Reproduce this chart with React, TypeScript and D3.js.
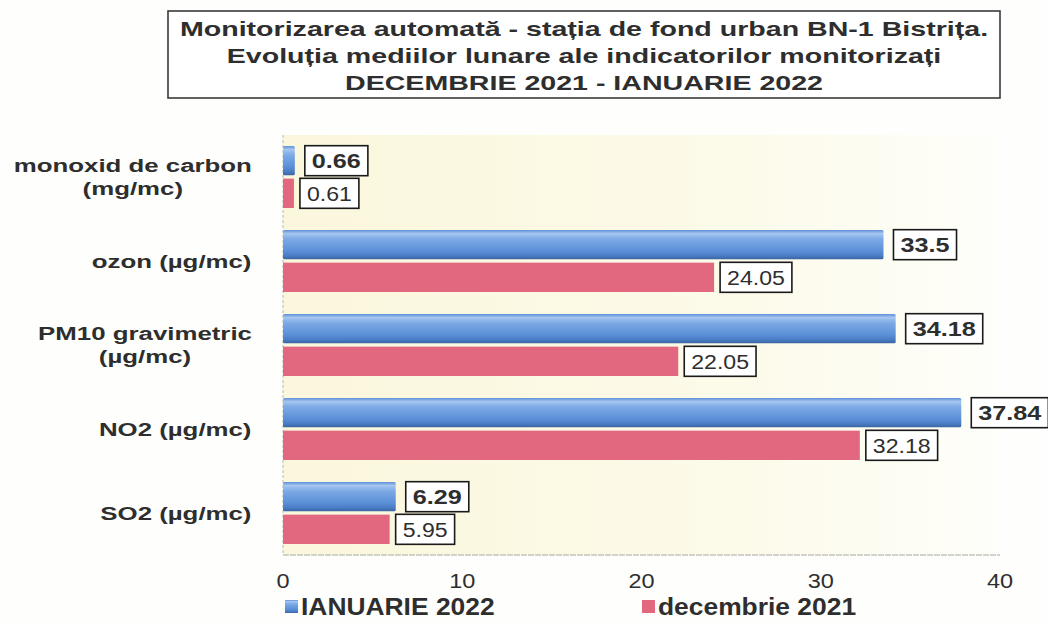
import React from 'react';
import * as d3 from 'd3';

// indicator labels (top to bottom) and monthly averages
const categories = [
  ['monoxid de carbon', '(mg/mc)'],
  ['ozon (µg/mc)'],
  ['PM10 gravimetric', '(µg/mc)'],
  ['NO2 (µg/mc)'],
  ['SO2 (µg/mc)'],
];
const ianuarie2022 = [0.66, 33.5, 34.18, 37.84, 6.29];
const decembrie2021 = [0.61, 24.05, 22.05, 32.18, 5.95];
const seriesNames = ['IANUARIE 2022', 'decembrie 2021'];
const xTicks = [0, 10, 20, 30, 40];
const titleLines = [
  'Monitorizarea automată  - stația de fond urban BN-1 Bistrița.',
  'Evoluția mediilor lunare ale indicatorilor monitorizați',
  'DECEMBRIE 2021 - IANUARIE 2022',
];

// rough Arial bold advance widths (em/1000), enough to size boxes
const W: Record<string, number> = {
  ' ': 278, '(': 333, ')': 333, '/': 278, '.': 278, '-': 333, ',': 278,
  a: 556, b: 611, c: 556, d: 611, e: 556, f: 333, g: 611, h: 611, i: 278, j: 278,
  k: 556, l: 278, m: 889, n: 611, o: 611, p: 611, q: 611, r: 389, s: 556, t: 333,
  u: 611, v: 556, w: 778, x: 556, y: 556, z: 500, 'µ': 611, 'ă': 556, 'ț': 333,
  A: 722, B: 722, C: 722, D: 722, E: 667, I: 278, M: 833, N: 722, O: 778, P: 667,
  R: 722, S: 667, U: 722,
};
const textWidth = (s: string, size: number) =>
  s.split('').reduce((acc, ch) => acc + (W[ch] ?? (/[0-9]/.test(ch) ? 556 : 600)), 0) / 1000 * size;

const font = 'Liberation Sans, Arial, sans-serif';
const ink = '#2e2e2e';

export default function App() {
  const width = 1048, height = 626;
  const plot = { left: 283, right: 1000, top: 135, bottom: 555 };

  const x = d3.scaleLinear().domain([0, 40]).range([plot.left, plot.right]);
  const keys = categories.map(c => c.join(' '));
  const y = d3.scaleBand().domain(keys).range([plot.top, plot.bottom]).paddingInner(0.262).paddingOuter(0.131);
  const sub = d3.scaleBand().domain(seriesNames).range([0, y.bandwidth()]).paddingInner(0.1);

  const catSize = 19, catStretch = 1.36;
  const labelRight = 252;

  const valueLabel = (v: number, yc: number, bold: boolean, key: string) => {
    const txt = String(v);
    const fs = 21;
    const st = bold ? 1.2 : 1.1;
    const tw = textWidth(txt, fs) * st;
    const bw = tw + 14;
    const bx = x(v) + (bold ? 10 : 6);
    return (
      <g key={key}>
        <rect x={bx} y={yc - 15} width={bw} height={30} fill="#fff" stroke="#1a1a1a" strokeWidth={1.6} />
        <text transform={`translate(${bx + bw / 2},${yc + 7.5}) scale(${st},1)`} textAnchor="middle"
          fontFamily={font} fontSize={fs} fontWeight={bold ? 'bold' : 'normal'} fill={ink}>{txt}</text>
      </g>
    );
  };

  return (
    <svg width={width} height={height} style={{ position: 'absolute', left: 0, top: 0, background: '#fefefc' }}>
      <defs>
        <linearGradient id="plotBg" x1="0" x2="1" y1="0" y2="0">
          <stop offset="0%" stopColor="#fbf7dd" />
          <stop offset="60%" stopColor="#fcfae8" />
          <stop offset="100%" stopColor="#fefefa" />
        </linearGradient>
        <linearGradient id="blueBar" x1="0" x2="0" y1="0" y2="1">
          <stop offset="0%" stopColor="#5d8fd8" />
          <stop offset="12%" stopColor="#a6c6f0" />
          <stop offset="30%" stopColor="#7eaae6" />
          <stop offset="70%" stopColor="#5b90d8" />
          <stop offset="88%" stopColor="#4a7cc4" />
          <stop offset="100%" stopColor="#3a63a0" />
        </linearGradient>
      </defs>

      {/* title */}
      <rect x={168} y={11} width={832} height={87} fill="#fff" stroke="#3a3a3a" strokeWidth={1.6} />
      {titleLines.map((t, i) => (
        <text key={i} transform={`translate(584,${36 + i * 27}) scale(1.43,1)`} textAnchor="middle"
          fontFamily={font} fontSize={20} fontWeight="bold" fill={ink}>{t}</text>
      ))}

      {/* plot area */}
      <rect x={plot.left} y={plot.top} width={plot.right - plot.left} height={plot.bottom - plot.top} fill="url(#plotBg)" />
      <line x1={plot.left} x2={plot.left} y1={plot.top} y2={plot.bottom} stroke="#b8b8b0" strokeDasharray="3,2" />
      <line x1={plot.left} x2={plot.right} y1={plot.bottom} y2={plot.bottom} stroke="#a8a8a0" strokeDasharray="6,1" />

      {/* bars */}
      {keys.map((k, i) => {
        const y0 = y(k)!;
        const yb = y0 + sub(seriesNames[0])!;
        const yp = y0 + sub(seriesNames[1])!;
        const h = sub.bandwidth();
        return (
          <g key={k}>
            <rect x={x(0)} y={yb} width={x(ianuarie2022[i]) - x(0)} height={h} fill="url(#blueBar)" rx={1.5} />
            <rect x={x(0)} y={yp} width={x(decembrie2021[i]) - x(0)} height={h} fill="#e2687f" />
            {valueLabel(ianuarie2022[i], yb + h / 2, true, 'a' + i)}
            {valueLabel(decembrie2021[i], yp + h / 2, false, 'b' + i)}
          </g>
        );
      })}

      {/* category labels */}
      {categories.map((lines, i) => {
        const c = y(keys[i])! + y.bandwidth() / 2;
        const maxW = Math.max(...lines.map(l => textWidth(l, catSize) * catStretch));
        const cx = labelRight - maxW / 2;
        const base = lines.length === 1 ? [c + 7] : [c - 5, c + 18];
        return lines.map((l, j) => (
          <text key={i + '-' + j} transform={`translate(${cx},${base[j]}) scale(${catStretch},1)`} textAnchor="middle"
            fontFamily={font} fontSize={catSize} fontWeight="bold" fill={ink}>{l}</text>
        ));
      })}

      {/* x axis ticks */}
      {xTicks.map(t => (
        <text key={t} transform={`translate(${x(t)},588) scale(1.12,1)`} textAnchor="middle"
          fontFamily={font} fontSize={21} fill={ink}>{t}</text>
      ))}

      {/* legend */}
      {seriesNames.map((s, i) => {
        const lx = i === 0 ? 285 : 642;
        return (
          <g key={s}>
            <rect x={lx} y={600} width={13} height={13} fill={i === 0 ? 'url(#blueBar)' : '#e2687f'} />
            <text transform={`translate(${lx + 16},615) scale(1.1,1)`} fontFamily={font} fontSize={24}
              fontWeight="bold" fill={ink}>{s}</text>
          </g>
        );
      })}
    </svg>
  );
}
